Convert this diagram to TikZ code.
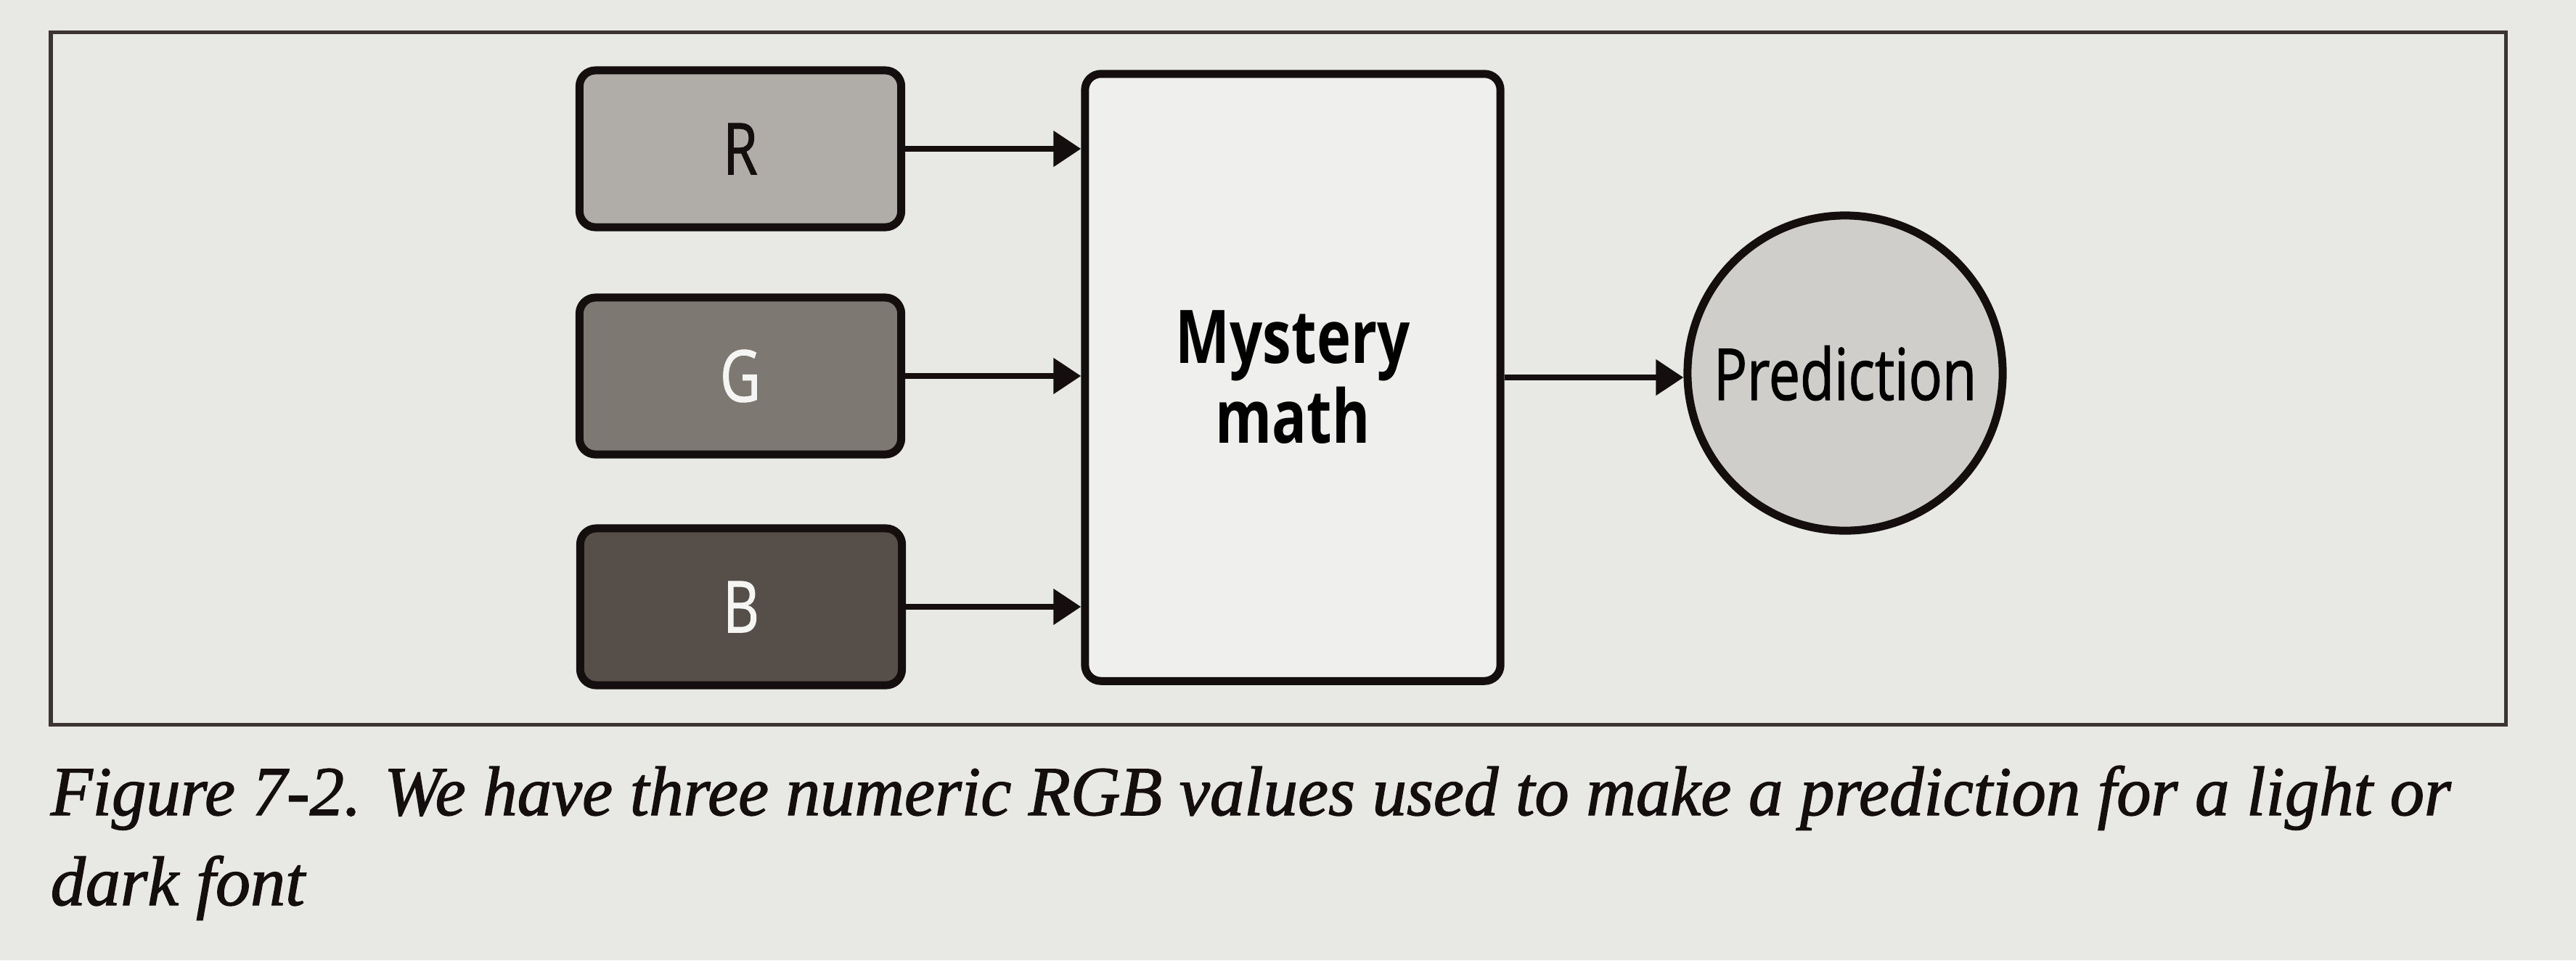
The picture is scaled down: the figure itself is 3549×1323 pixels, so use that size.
\documentclass[tikz,border=0pt]{standalone}
\usepackage{fontspec}
\usepackage{graphicx}
\newfontfamily\lblfont[FakeStretch=0.78]{Open Sans}
\newfontfamily\medfont[FakeStretch=0.78, BoldFont={Open Sans}, BoldFeatures={FakeBold=1.2}]{Open Sans}
\newfontfamily\capfont[BoldItalicFont={Liberation Serif Italic}, BoldItalicFeatures={FakeBold=1.4}]{Liberation Serif}
\usetikzlibrary{arrows.meta}
\definecolor{paper}{RGB}{232,232,229}
\definecolor{framecol}{RGB}{60,52,50}
\definecolor{boxline}{RGB}{20,14,14}
\definecolor{rfill}{RGB}{176,172,167}
\definecolor{gfill}{RGB}{126,120,114}
\definecolor{bfill}{RGB}{86,78,72}
\definecolor{mfill}{RGB}{239,239,237}
\definecolor{pfill}{RGB}{208,206,203}
\definecolor{lighttext}{RGB}{245,245,243}
\definecolor{captext}{RGB}{20,14,14}
\tikzset{
  inbox/.style={draw=boxline, line width=0.11cm, rounded corners=0.22cm,
    minimum width=4.43cm, minimum height=2.16cm, inner sep=0pt,
    font=\medfont\bfseries\fontsize{28}{34}\selectfont},
  mathbox/.style={draw=boxline, line width=0.11cm, rounded corners=0.22cm,
    minimum width=5.72cm, minimum height=8.36cm, inner sep=0pt, fill=mfill,
    align=center, font=\lblfont\bfseries\fontsize{29}{31.3}\selectfont},
  predcircle/.style={draw=boxline, line width=0.11cm, circle, minimum size=4.34cm,
    inner sep=0pt, fill=pfill, font=\medfont\bfseries\fontsize{28}{34}\selectfont},
  arr/.style={draw=boxline, line width=0.08cm, -{Triangle[length=0.38cm,width=0.48cm]}},
  capline/.style={anchor=base west, inner sep=0pt, text=captext}
}
\begin{document}
\begin{tikzpicture}[x=0.01cm,y=-0.01cm]
\useasboundingbox (0,0) rectangle (3549,1323);
\fill[paper] (0,0) rectangle (3549,1323);
\draw[framecol, line width=0.05cm] (70,44) rectangle (3452,998);

\node[inbox, fill=rfill, text=boxline] (R) at (1020,205) {R};
\node[inbox, fill=gfill, text=lighttext] (G) at (1020,518) {G};
\node[inbox, fill=bfill, text=lighttext] (B) at (1021,836) {B};
\node[mathbox] (M) at (1781,520) {Mystery\\math};
\node[predcircle] (P) at (2542,514) {Prediction};

\draw[arr] (R.east) -- (R.east -| M.west);
\draw[arr] (G.east) -- (G.east -| M.west);
\draw[arr] (B.east) -- (B.east -| M.west);
\draw[arr] (M.east) -- (M.east -| P.west);

\node[capline] (cap1) at (69,1123) {\resizebox{33.05cm}{0.68cm}{\capfont\bfseries\itshape Figure 7-2. We have three numeric RGB values used to make a prediction for a light or}};
\node[capline] (cap2) at (69,1247) {\resizebox{3.5cm}{0.68cm}{\capfont\bfseries\itshape dark font}};
\end{tikzpicture}
\end{document}
